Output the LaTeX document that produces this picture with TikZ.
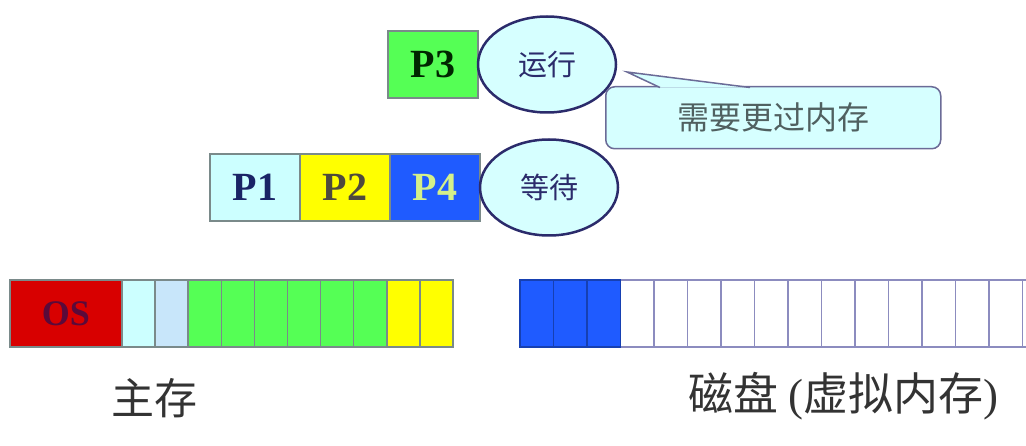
\documentclass[tikz,border=0pt]{standalone}
\usepackage{fontspec}
\setmainfont{Liberation Serif}
\newfontfamily\cjk{Noto Sans CJK SC}
\usetikzlibrary{shapes.geometric}
\definecolor{osred}{HTML}{D80000}
\definecolor{ostext}{HTML}{5A0A3A}
\definecolor{lcyan}{HTML}{CCFFFF}
\definecolor{lblue}{HTML}{C8E6FA}
\definecolor{pgreen}{HTML}{55FF55}
\definecolor{pyellow}{HTML}{FFFF00}
\definecolor{pblue}{HTML}{1F5BFF}
\definecolor{ellfill}{HTML}{D6FFFF}
\definecolor{navy}{HTML}{2B2B6B}
\definecolor{pnavy}{HTML}{1A2466}
\definecolor{p4text}{HTML}{D4F08A}
\definecolor{mborder}{HTML}{7A8A8A}
\definecolor{dborder}{HTML}{8C8CBF}
\definecolor{calltext}{HTML}{506060}
\definecolor{labtext}{HTML}{333333}
\begin{document}
\begin{tikzpicture}[x=1pt,y=-1pt,
  pbox/.style={draw=mborder,line width=1.5pt,outer sep=0pt,minimum width=90pt,minimum height=67pt,inner sep=0pt,anchor=north west,font=\fontsize{40}{40}\selectfont\bfseries},
  mcell/.style={draw=mborder,line width=1.5pt,outer sep=0pt,minimum height=67pt,inner sep=0pt,anchor=north west},
  dcell/.style={draw=dborder,line width=1.5pt,outer sep=0pt,minimum width=33.5pt,minimum height=67pt,inner sep=0pt,anchor=north west,fill=white},
  state/.style={ellipse,draw=navy,line width=2.5pt,outer sep=0pt,fill=ellfill,minimum width=138pt,minimum height=96pt,inner sep=0pt,font=\cjk\fontsize{29}{29}\selectfont,text=navy},
  lab/.style={font=\cjk\fontsize{43}{43}\selectfont,text=labtext}
]
\useasboundingbox (0,0) rectangle (1026,446);
\clip (0,0) rectangle (1026,446);

% P3 running
\node[pbox,fill=pgreen,text=black!85!green] (p3) at (388,31) {P3};
\node[state,anchor=west] (run) at (p3.east) {运行};

% callout
\node[draw=navy!70,line width=1.5pt,fill=ellfill,rounded corners=9pt,minimum width=335pt,minimum height=62pt,anchor=north west,inner sep=0pt,font=\cjk\fontsize{32}{32}\selectfont,text=calltext] (call) at (605,86) {需要更过内存};
\coordinate (tip) at (627,72);
\coordinate (b1) at (660,87.5);
\coordinate (b2) at (750,87.5);
\fill[ellfill] (tip) -- (b1) -- (b2) -- cycle;
\draw[navy!70,line width=1.5pt] (b1) -- (tip) -- (b2);

% waiting row
\node[pbox,fill=lcyan,text=pnavy] (p1) at (210,154) {P1};
\node[pbox,fill=pyellow,text=black!80!yellow] (p2) at (p1.north east) {P2};
\node[pbox,fill=pblue,text=p4text] (p4) at (p2.north east) {P4};
\node[state,anchor=west] (wait) at (p4.east) {等待};

% main memory
\node[mcell,fill=osred,minimum width=112pt,font=\fontsize{36}{36}\selectfont\bfseries,text=ostext] (m0) at (10,280) {OS};
\node[mcell,fill=lcyan,minimum width=33.1pt] (m1) at (m0.north east) {};
\node[mcell,fill=lblue,minimum width=33.1pt] (m2) at (m1.north east) {};
\node[mcell,fill=pgreen,minimum width=33.1pt] (m3) at (m2.north east) {};
\node[mcell,fill=pgreen,minimum width=33.1pt] (m4) at (m3.north east) {};
\node[mcell,fill=pgreen,minimum width=33.1pt] (m5) at (m4.north east) {};
\node[mcell,fill=pgreen,minimum width=33.1pt] (m6) at (m5.north east) {};
\node[mcell,fill=pgreen,minimum width=33.1pt] (m7) at (m6.north east) {};
\node[mcell,fill=pgreen,minimum width=33.1pt] (m8) at (m7.north east) {};
\node[mcell,fill=pyellow,minimum width=33.1pt] (m9) at (m8.north east) {};
\node[mcell,fill=pyellow,minimum width=33.1pt] (m10) at (m9.north east) {};

% disk
\node[dcell,fill=pblue,draw=pblue!70!black] (d1) at (520,280) {};
\foreach \i [count=\j from 2] in {1,...,15}{
  \node[dcell] (d\j) at (d\i.north east) {};
}
\node[dcell,fill=pblue,draw=pblue!70!black] (d2) at (d1.north east) {};
\node[dcell,fill=pblue,draw=pblue!70!black] (d3) at (d2.north east) {};

% labels
\node[lab] (mainlab) at (154,398) {主存};
\node[lab,anchor=east,font=\cjk\fontsize{45}{45}\selectfont] (disklab) at (1002,396) {磁盘 {\fontspec{Liberation Serif}(}虚拟内存{\fontspec{Liberation Serif})}};
\end{tikzpicture}
\end{document}
